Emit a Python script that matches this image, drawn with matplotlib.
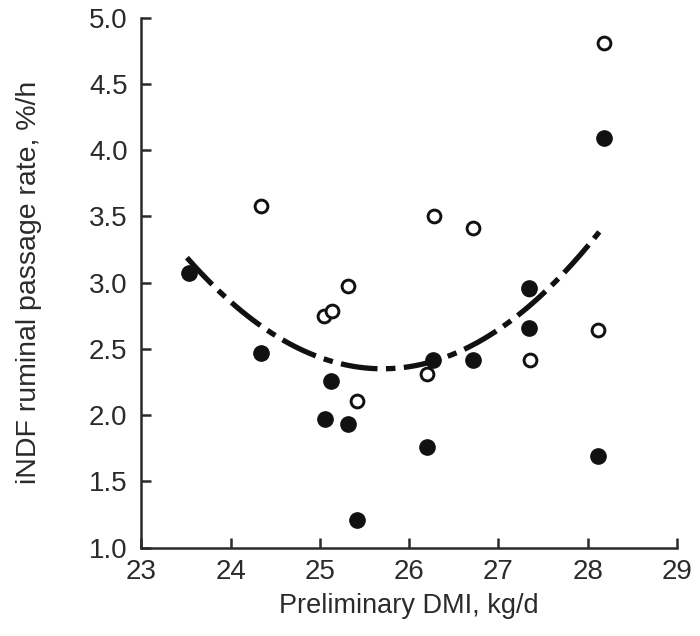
import numpy as np
import matplotlib
matplotlib.use("Agg")
import matplotlib.pyplot as plt

plt.rcParams['font.family'] = ['Liberation Sans', 'DejaVu Sans']

# filled symbols
filled_x = [23.53, 24.34, 25.06, 25.12, 25.31, 25.42, 26.20, 26.27, 26.72, 27.34, 27.34, 28.12, 28.18]
filled_y = [3.07, 2.47, 1.97, 2.26, 1.93, 1.21, 1.76, 2.42, 2.42, 2.96, 2.66, 1.69, 4.09]

# open symbols
open_x = [24.34, 25.05, 25.14, 25.31, 25.42, 26.20, 26.28, 26.72, 27.35, 27.34, 28.12, 28.18]
open_y = [3.58, 2.75, 2.79, 2.975, 2.11, 2.31, 3.50, 3.41, 2.42, 2.95, 2.64, 4.81]

# quadratic fit drawn in the original: y = a*(x - h)^2 + k
fit_a = 0.175
fit_h = 25.7
fit_k = 2.35
fit_range = (23.51, 28.13)

x_ticks = [23, 24, 25, 26, 27, 28, 29]
y_ticks = [1.0, 1.5, 2.0, 2.5, 3.0, 3.5, 4.0, 4.5, 5.0]

ink = '#2b2b2b'

fig = plt.figure(figsize=(7, 6.36), dpi=100)
ax = fig.add_axes([0.202, 0.139, 0.765, 0.833])

xs = np.linspace(fit_range[0], fit_range[1], 200)
ax.plot(xs, fit_a * (xs - fit_h) ** 2 + fit_k, color='#111111', linewidth=3.8,
        linestyle=(0, (7.0, 1.6, 1.8, 1.6)), solid_capstyle='butt', zorder=2)

ax.plot(open_x, open_y, linestyle='none', marker='o', markersize=9.2,
        markerfacecolor='white', markeredgecolor='#111111', markeredgewidth=2.1, zorder=3)
ax.plot(filled_x, filled_y, linestyle='none', marker='o', markersize=11,
        markerfacecolor='#111111', markeredgecolor='#111111', zorder=4)

ax.set_xlim(23, 29)
ax.set_ylim(1.0, 5.0)
ax.set_xticks(x_ticks)
ax.set_yticks(y_ticks)
ax.set_yticklabels(['%.1f' % v for v in y_ticks])

for side in ['top', 'right']:
    ax.spines[side].set_visible(False)
for side in ['left', 'bottom']:
    ax.spines[side].set_linewidth(1.8)
    ax.spines[side].set_color(ink)

ax.tick_params(direction='in', length=7, width=1.8, color=ink,
               labelsize=20, labelcolor=ink)
ax.tick_params(axis='y', pad=10)
ax.tick_params(axis='x', pad=8)

ax.set_xlabel('Preliminary DMI, kg/d', fontsize=19.5, color=ink, labelpad=6)
ax.set_ylabel('iNDF ruminal passage rate, %/h', fontsize=20.5, color=ink)
ax.yaxis.set_label_coords(-0.186, 0.5)

fig.savefig('out.png', dpi=100)
